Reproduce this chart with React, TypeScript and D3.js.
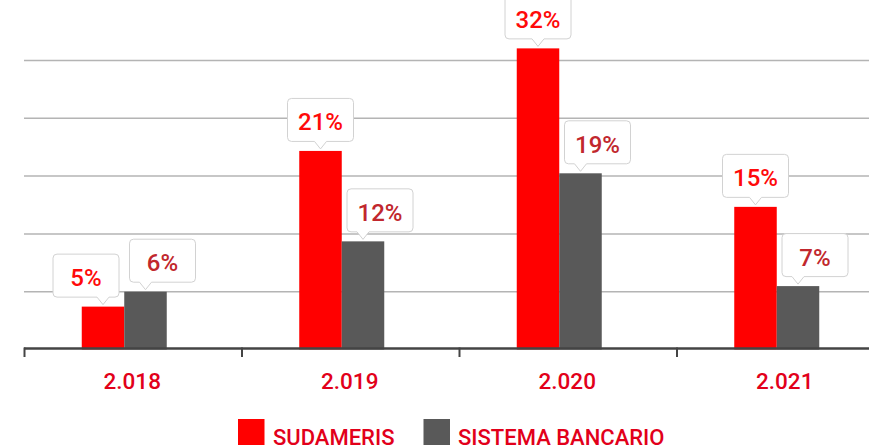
import React from "react";
import * as d3 from "d3";

const categories = ["2.018", "2.019", "2.020", "2.021"];
const sudameris = [4.6, 21.3, 32.3, 15.3];
const sistema = [6.2, 11.6, 18.9, 6.8];
const seriesNames = ["SUDAMERIS", "SISTEMA BANCARIO"];
const yMax = 31;
const gridCount = 5;

const W = 869;
const H = 448;
const FONT = "Roboto, 'DejaVu Sans', sans-serif";
const RED = "#ff0000";
const GRAY = "#595959";
const TEXT_RED = "#e2001a";
const LABEL_RED = "#ff0a0a";
const LABEL_DARK = "#c1272d";

const BOX_W = 66;
const BOX_H = 43;

function calloutPath(x0: number, y0: number, x1: number, y1: number, px: number, tip: number) {
  const r = 4;
  const hw = 6;
  return `M${x0 + r},${y0} H${x1 - r} Q${x1},${y0} ${x1},${y0 + r} V${y1 - r} Q${x1},${y1} ${x1 - r},${y1} H${px + hw} L${px},${tip} L${px - hw},${y1} H${x0 + r} Q${x0},${y1} ${x0},${y1 - r} V${y0 + r} Q${x0},${y0} ${x0 + r},${y0} Z`;
}

export default function App() {
  const x = d3.scaleBand<string>().domain(categories).range([24.5, 24.5 + 217.5 * 4]).paddingInner(0).paddingOuter(0);
  const y = d3.scaleLinear().domain([0, yMax]).range([349.5, 60.5]);
  const barW = 42.5;
  const groupShift = -9;
  const gridVals = d3.range(1, gridCount + 1).map((i) => (yMax * i) / gridCount);
  const fmt = (v: number) => `${d3.format(".0f")(v)}%`;
  const series = [
    { name: seriesNames[0], values: sudameris, color: RED, labelColor: LABEL_RED },
    { name: seriesNames[1], values: sistema, color: GRAY, labelColor: LABEL_DARK },
  ];

  const labels: any[] = [];
  categories.forEach((c, i) => {
    const center = (x(c) as number) + x.bandwidth() / 2 + groupShift;
    const items = series.map((s, si) => {
      const bx = center + (si === 0 ? -barW : 0);
      const bc = bx + barW / 2;
      const top = y(s.values[i]);
      const bottom = top - 9.5;
      return { si, bc, top, bottom, offset: si === 1 ? 17 : 0, v: s.values[i], color: s.labelColor };
    });
    const a = items[0];
    const b = items[1];
    const ax0 = a.bc + a.offset - BOX_W / 2;
    const bx0 = b.bc + b.offset - BOX_W / 2;
    const hOverlap = ax0 + BOX_W > bx0;
    const vOverlap = !(a.bottom < b.bottom - BOX_H || b.bottom < a.bottom - BOX_H);
    if (hOverlap && vOverlap) a.offset = -17;
    labels.push(...items);
  });

  return (
    <svg width={W} height={H} style={{ position: "absolute", left: 0, top: 0, background: "#fff" }} fontFamily={FONT}>
      {gridVals.map((g) => (
        <line key={g} x1={24} x2={W} y1={y(g)} y2={y(g)} stroke="#b4b4b4" strokeWidth={1.5} />
      ))}
      {categories.map((c, i) => {
        const center = (x(c) as number) + x.bandwidth() / 2 + groupShift;
        return (
          <g key={c}>
            {series.map((s, si) => (
              <rect
                key={si}
                x={center + (si === 0 ? -barW : 0)}
                y={y(s.values[i])}
                width={barW}
                height={y(0) - y(s.values[i])}
                fill={s.color}
              />
            ))}
          </g>
        );
      })}
      <line x1={24} x2={W} y1={y(0) - 1} y2={y(0) - 1} stroke="#444" strokeWidth={2.5} />
      {categories.map((c) => (
        <line key={c} x1={(x(c) as number)} x2={(x(c) as number)} y1={y(0) - 2} y2={357} stroke="#444" strokeWidth={2} />
      ))}
      {categories.map((c) => (
        <text key={c} x={(x(c) as number) + x.bandwidth() / 2 - 1} y={388.5} textAnchor="middle" fontSize={22.5} fontWeight={500} fill={TEXT_RED}>
          {c}
        </text>
      ))}
      {labels.map((l, k) => {
        const cx = l.bc + l.offset;
        const x0 = cx - BOX_W / 2;
        const x1 = cx + BOX_W / 2;
        const y1 = l.bottom;
        const y0 = y1 - BOX_H;
        return (
          <g key={k}>
            <path d={calloutPath(x0, y0, x1, y1, l.bc, l.top - 2)} fill="#fff" stroke="#d2d2d2" strokeWidth={1} />
            <text x={cx} y={y1 - 11} textAnchor="middle" fontSize={24} fontWeight={500} fill={l.color}>
              {fmt(l.v)}
            </text>
          </g>
        );
      })}
      <g>
        <rect x={238} y={419} width={26.5} height={26} fill={RED} />
        <text x={273} y={444.5} fontSize={22} fontWeight={500} fill={TEXT_RED}>{seriesNames[0]}</text>
        <rect x={423.5} y={419} width={26.5} height={26} fill={GRAY} />
        <text x={458} y={444.5} fontSize={22} fontWeight={500} fill={TEXT_RED}>{seriesNames[1]}</text>
      </g>
    </svg>
  );
}
